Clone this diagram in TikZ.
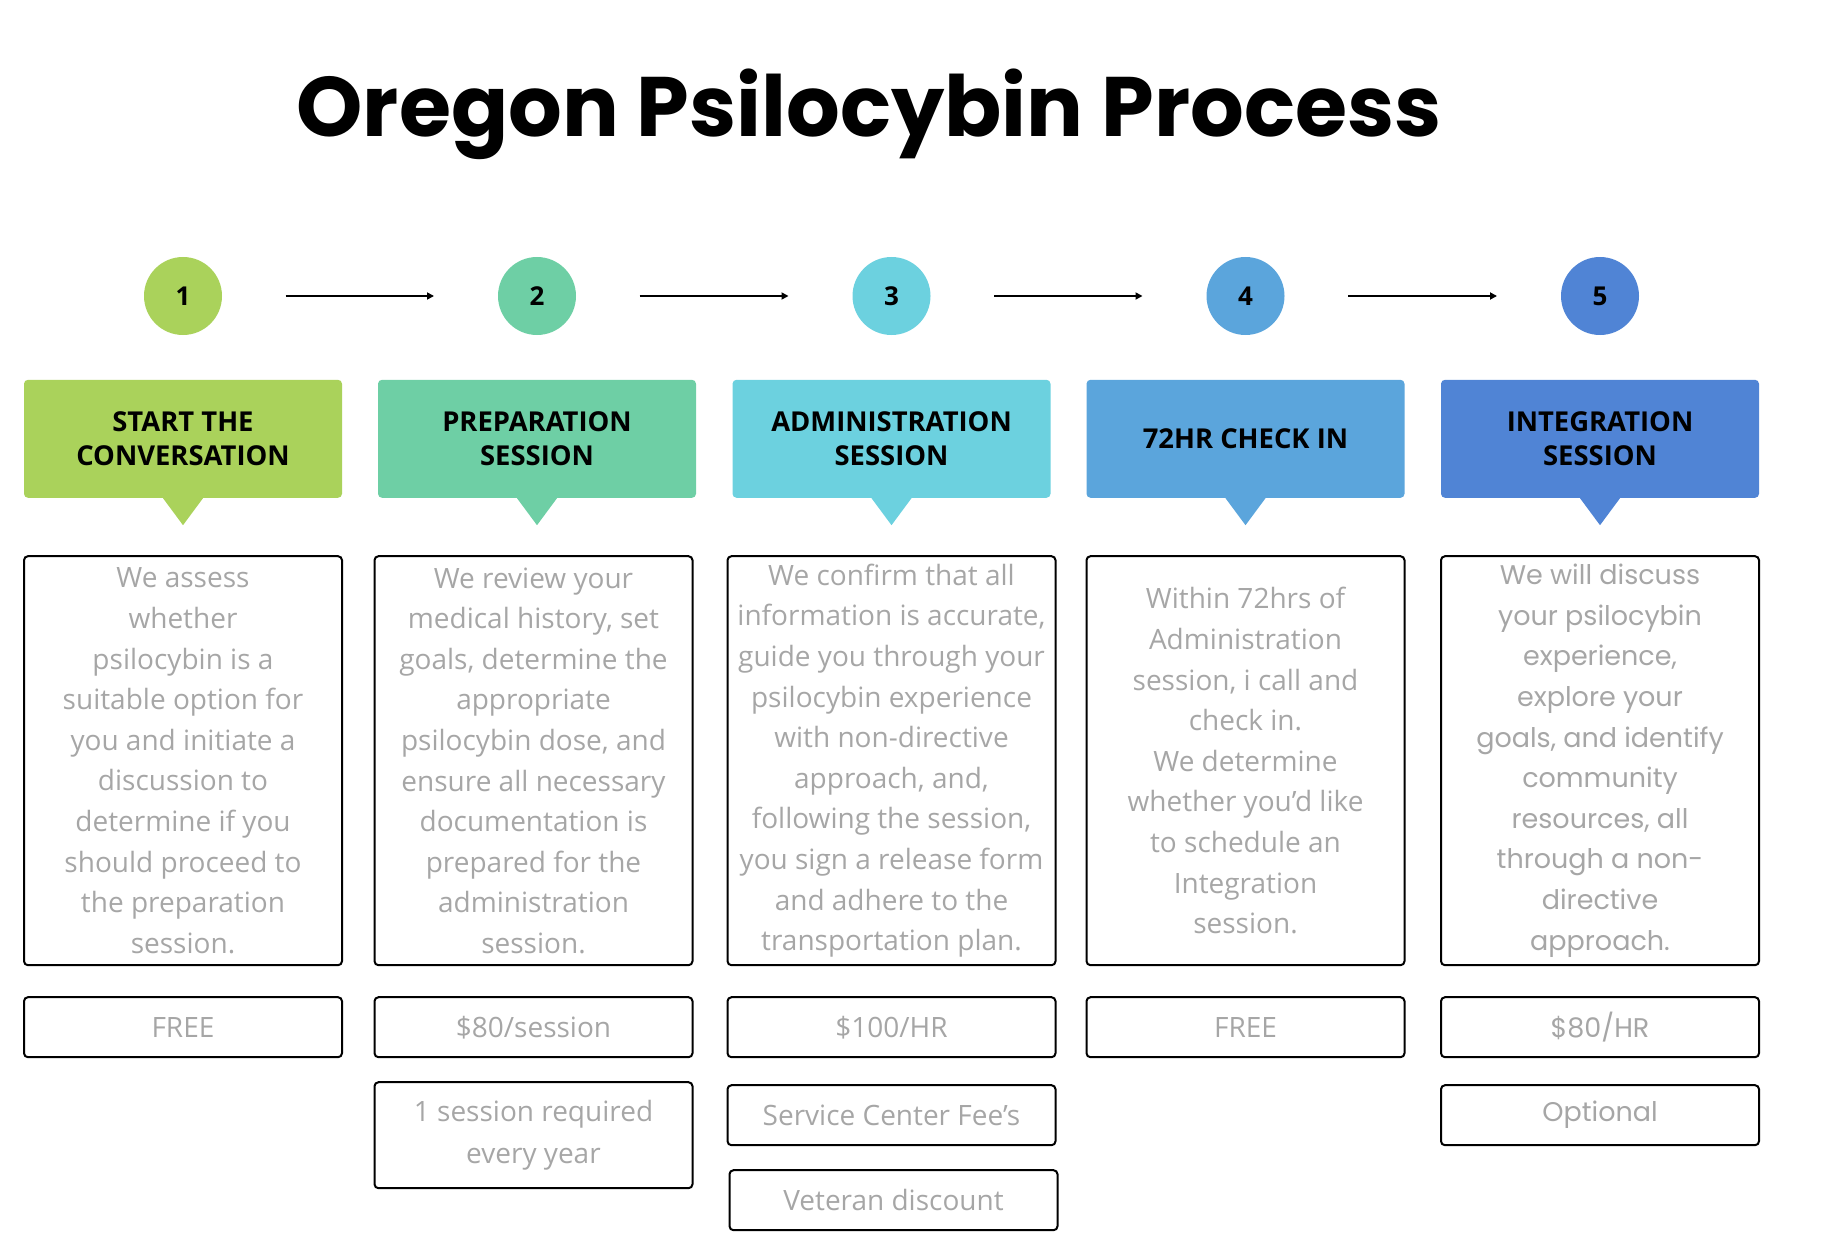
\documentclass[tikz,border=0pt]{standalone}
\usepackage{fontspec}
\setmainfont{Open Sans}
\newfontfamily\popfont{Poppins}
\usetikzlibrary{positioning, arrows.meta}

\definecolor{stepA}{RGB}{170,210,91}
\definecolor{stepB}{RGB}{110,207,165}
\definecolor{stepC}{RGB}{108,209,223}
\definecolor{stepD}{RGB}{91,165,220}
\definecolor{stepE}{RGB}{80,132,213}
\definecolor{txtgray}{RGB}{166,166,166}

\begin{document}
\begin{tikzpicture}[
  x=0.5pt, y=-0.5pt,
  num/.style={circle, minimum size=39pt, inner sep=0pt, font=\bfseries\fontsize{13}{13}\selectfont},
  head/.style={rectangle, rounded corners=2pt, minimum width=159pt, minimum height=59pt, inner sep=0pt, align=center, font=\bfseries\fontsize{13.7}{17}\selectfont},
  desc/.style={rectangle, draw, line width=1pt, rounded corners=2pt, minimum width=159pt, minimum height=204.5pt, inner sep=0pt, align=center, text=txtgray, font=\fontsize{14}{20.3}\selectfont},
  price/.style={rectangle, draw, line width=1pt, rounded corners=2pt, minimum width=159pt, minimum height=30pt, inner sep=0pt, align=center, text=txtgray, font=\fontsize{14}{21}\selectfont},
  arrow/.style={-{Triangle[length=3.5pt, width=3.5pt]}, line width=0.85pt, shorten <=31.6pt, shorten >=31.8pt}
]
  \useasboundingbox (0,0) rectangle (1825,1257);

  \node[anchor=base, font=\popfont\bfseries\fontsize{42.2}{42.2}\selectfont] (title) at (869,137) {Oregon Psilocybin Process};

  % step numbers
  \node[num, fill=stepA] (n1) at (183,296) {1};
  \node[num, fill=stepB] (n2) at (537,296) {2};
  \node[num, fill=stepC] (n3) at (891.5,296) {3};
  \node[num, fill=stepD] (n4) at (1245.5,296) {4};
  \node[num, fill=stepE] (n5) at (1600,296) {5};

  \draw[arrow] (n1) -- (n2);
  \draw[arrow] (n2) -- (n3);
  \draw[arrow] (n3) -- (n4);
  \draw[arrow] (n4) -- (n5);

  % headers
  \node[head, fill=stepA, below=22pt of n1] (h1) {START THE\\CONVERSATION};
  \node[head, fill=stepB, below=22pt of n2] (h2) {PREPARATION\\SESSION};
  \node[head, fill=stepC, below=22pt of n3] (h3) {ADMINISTRATION\\SESSION};
  \node[head, fill=stepD, below=22pt of n4] (h4) {72HR CHECK IN};
  \node[head, fill=stepE, below=22pt of n5] (h5) {INTEGRATION\\SESSION};

  \foreach \i/\c in {1/stepA, 2/stepB, 3/stepC, 4/stepD, 5/stepE}
    \fill[\c] ([xshift=-10pt]h\i.south) -- ([xshift=10pt]h\i.south) -- ([yshift=-13.5pt]h\i.south) -- cycle;

  % descriptions
  \node[desc, below=28.5pt of h1] (d1) {We assess\\whether\\psilocybin is a\\suitable option for\\you and initiate a\\discussion to\\determine if you\\should proceed to\\the preparation\\session.};
  \node[desc, below=28.5pt of h2, xshift=-1.75pt] (d2) {We review your\\medical history, set\\goals, determine the\\appropriate\\psilocybin dose, and\\ensure all necessary\\documentation is\\prepared for the\\administration\\session.};
  \node[desc, minimum width=164pt, below=28.5pt of h3] (d3) {We confirm that all\\information is accurate,\\guide you through your\\psilocybin experience\\with non-directive\\approach, and,\\following the session,\\you sign a release form\\and adhere to the\\transportation plan.};
  \node[desc, below=28.5pt of h4] (d4) {Within 72hrs of\\Administration\\session, i call and\\check in.\\We determine\\whether you’d like\\to schedule an\\Integration\\session.};
  \node[desc, below=28.5pt of h5, font=\popfont\fontsize{13.5}{20.3}\selectfont] (d5) {We will discuss\\your psilocybin\\experience,\\explore your\\goals, and identify\\community\\resources, all\\through a non-\\directive\\approach.};

  % prices
  \node[price, below=15pt of d1] (p1) {FREE};
  \node[price, below=15pt of d2] (p2) {\$80/session};
  \node[price, minimum width=164pt, below=15pt of d3] (p3) {\$100/HR};
  \node[price, below=15pt of d4] (p4) {FREE};
  \node[price, below=15pt of d5, font=\popfont\fontsize{13.5}{21}\selectfont] (p5) {\$80/HR};

  % extra notes
  \node[price, minimum height=53pt, below=11.5pt of p2] (x2) {1 session required\\every year};
  \node[price, minimum width=164pt, below=13pt of p3] (x3) {Service Center Fee’s};
  \node[price, minimum width=164pt, below=11.5pt of x3, xshift=1pt] (x3b) {Veteran discount};
  \node[price, below=13pt of p5, font=\popfont\fontsize{13.5}{21}\selectfont] (x5) {Optional};
\end{tikzpicture}
\end{document}
